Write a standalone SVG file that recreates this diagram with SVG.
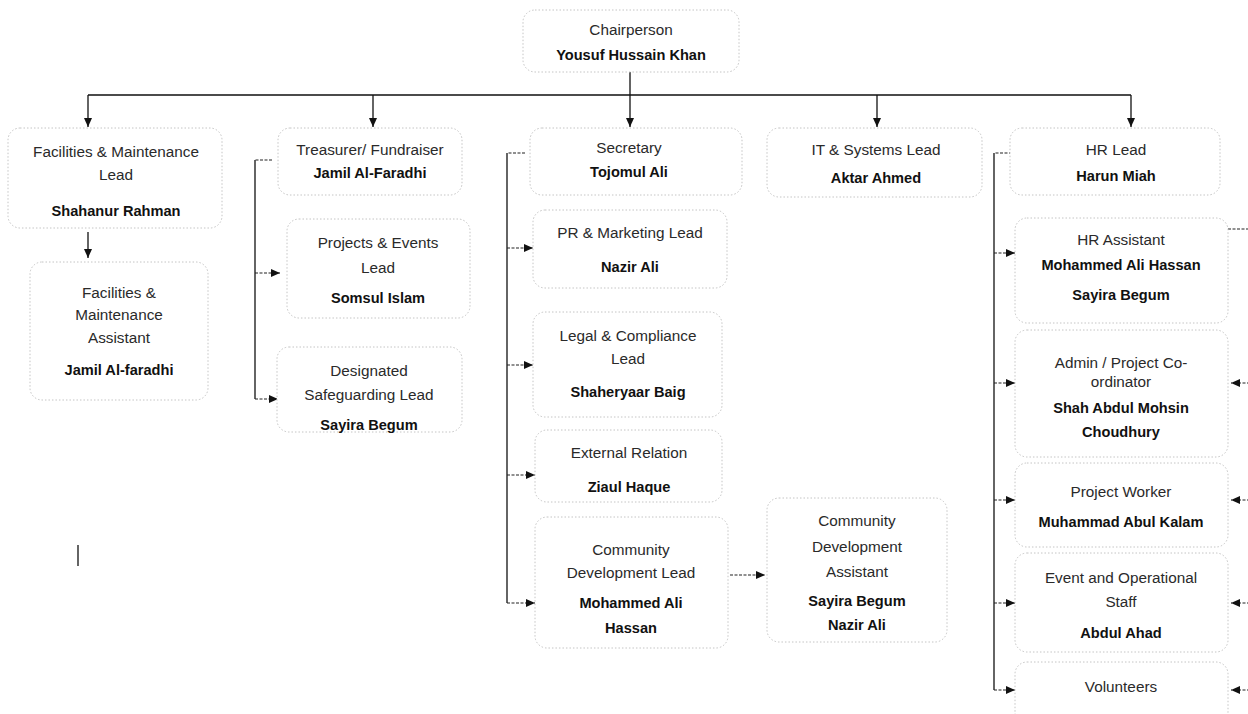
<svg xmlns="http://www.w3.org/2000/svg" width="1248" height="714" viewBox="0 0 1248 714">
  <style>
    .box { fill: #ffffff; stroke: #c4c4c4; stroke-width: 1; stroke-dasharray: 1.5 2; }
    .t { font-family: "Liberation Sans", Arial, sans-serif; font-size: 15.3px; fill: #2a2a2a; text-anchor: middle; }
    .b { font-weight: bold; font-size: 14.6px; fill: #111; }
    .trunk { fill: none; stroke: #111; stroke-width: 1.3; }
    .stub { fill: none; stroke: #222; stroke-width: 1.2; stroke-dasharray: 3 1.5; }
  </style>
  <defs>
    <marker id="arrow" markerUnits="userSpaceOnUse" markerWidth="9" markerHeight="8" refX="9" refY="4" orient="auto">
      <path d="M0,0 L9,4 L0,8 z" fill="#111"/>
    </marker>
  </defs>
  <rect width="1248" height="714" fill="#ffffff"/>

  <!-- connectors -->
  <g id="connectors">
    <!-- chairperson to the five leads -->
    <path class="trunk" d="M630,72 V95 M88,95 H1131"/>
    <path class="trunk" d="M88,95 V127" marker-end="url(#arrow)"/>
    <path class="trunk" d="M373,95 V127" marker-end="url(#arrow)"/>
    <path class="trunk" d="M630,95 V127" marker-end="url(#arrow)"/>
    <path class="trunk" d="M877,95 V127" marker-end="url(#arrow)"/>
    <path class="trunk" d="M1131,95 V127" marker-end="url(#arrow)"/>

    <!-- facilities -->
    <path class="trunk" d="M88,232 V258" marker-end="url(#arrow)"/>
    <path class="trunk" d="M78,545 V566"/>

    <!-- treasurer -->
    <path class="trunk" d="M255,160 V399"/>
    <path class="stub" d="M272,160 H255"/>
    <path class="stub" d="M255,273 H280" marker-end="url(#arrow)"/>
    <path class="stub" d="M255,399 H278" marker-end="url(#arrow)"/>

    <!-- secretary -->
    <path class="trunk" d="M507,153 V603"/>
    <path class="stub" d="M525,153 H507"/>
    <path class="stub" d="M507,248 H533" marker-end="url(#arrow)"/>
    <path class="stub" d="M507,365 H533" marker-end="url(#arrow)"/>
    <path class="stub" d="M507,475 H535" marker-end="url(#arrow)"/>
    <path class="stub" d="M507,603 H535" marker-end="url(#arrow)"/>
    <path class="stub" d="M730,575 H765" marker-end="url(#arrow)"/>

    <!-- HR -->
    <path class="trunk" d="M994,153 V690"/>
    <path class="stub" d="M1012,153 H994"/>
    <path class="stub" d="M994,253 H1015" marker-end="url(#arrow)"/>
    <path class="stub" d="M994,383 H1015" marker-end="url(#arrow)"/>
    <path class="stub" d="M994,500 H1015" marker-end="url(#arrow)"/>
    <path class="stub" d="M994,603 H1015" marker-end="url(#arrow)"/>
    <path class="stub" d="M994,690 H1015" marker-end="url(#arrow)"/>

    <!-- HR assistant to staff (right side) -->
    <path class="stub" d="M1228,229 H1250"/>
    <path class="stub" d="M1250,383 H1231" marker-end="url(#arrow)"/>
    <path class="stub" d="M1250,500 H1231" marker-end="url(#arrow)"/>
    <path class="stub" d="M1250,603 H1231" marker-end="url(#arrow)"/>
    <path class="stub" d="M1250,690 H1231" marker-end="url(#arrow)"/>
  </g>

  <g id="chairperson">
    <rect class="box" x="523" y="10" width="216" height="62" rx="12"/>
    <text class="t" x="631" y="35">Chairperson</text>
    <text class="t b" x="631" y="60">Yousuf Hussain Khan</text>
  </g>

  <g id="facilities-lead">
    <rect class="box" x="8" y="128" width="214" height="100" rx="12"/>
    <text class="t" x="116" y="157">Facilities &amp; Maintenance</text>
    <text class="t" x="116" y="180">Lead</text>
    <text class="t b" x="116" y="216">Shahanur Rahman</text>
  </g>

  <g id="facilities-assistant">
    <rect class="box" x="30" y="262" width="178" height="138" rx="12"/>
    <text class="t" x="119" y="298">Facilities &amp;</text>
    <text class="t" x="119" y="320">Maintenance</text>
    <text class="t" x="119" y="343">Assistant</text>
    <text class="t b" x="119" y="375">Jamil Al-faradhi</text>
  </g>

  <g id="treasurer">
    <rect class="box" x="278" y="128" width="184" height="67" rx="12"/>
    <text class="t" x="370" y="155">Treasurer/ Fundraiser</text>
    <text class="t b" x="370" y="178">Jamil Al-Faradhi</text>
  </g>

  <g id="projects-events">
    <rect class="box" x="287" y="219" width="183" height="99" rx="12"/>
    <text class="t" x="378" y="248">Projects &amp; Events</text>
    <text class="t" x="378" y="273">Lead</text>
    <text class="t b" x="378" y="303">Somsul Islam</text>
  </g>

  <g id="safeguarding">
    <rect class="box" x="277" y="347" width="185" height="85" rx="12"/>
    <text class="t" x="369" y="376">Designated</text>
    <text class="t" x="369" y="400">Safeguarding Lead</text>
    <text class="t b" x="369" y="430">Sayira Begum</text>
  </g>

  <g id="secretary">
    <rect class="box" x="530" y="128" width="212" height="67" rx="12"/>
    <text class="t" x="629" y="153">Secretary</text>
    <text class="t b" x="629" y="177">Tojomul Ali</text>
  </g>

  <g id="pr-marketing">
    <rect class="box" x="533" y="210" width="194" height="78" rx="12"/>
    <text class="t" x="630" y="238">PR &amp; Marketing Lead</text>
    <text class="t b" x="630" y="272">Nazir Ali</text>
  </g>

  <g id="legal-compliance">
    <rect class="box" x="533" y="312" width="189" height="105" rx="12"/>
    <text class="t" x="628" y="341">Legal &amp; Compliance</text>
    <text class="t" x="628" y="364">Lead</text>
    <text class="t b" x="628" y="397">Shaheryaar Baig</text>
  </g>

  <g id="external-relation">
    <rect class="box" x="535" y="430" width="187" height="72" rx="12"/>
    <text class="t" x="629" y="458">External Relation</text>
    <text class="t b" x="629" y="492">Ziaul Haque</text>
  </g>

  <g id="community-lead">
    <rect class="box" x="535" y="517" width="193" height="131" rx="12"/>
    <text class="t" x="631" y="555">Community</text>
    <text class="t" x="631" y="578">Development Lead</text>
    <text class="t b" x="631" y="608">Mohammed Ali</text>
    <text class="t b" x="631" y="633">Hassan</text>
  </g>

  <g id="community-assistant">
    <rect class="box" x="767" y="498" width="180" height="144" rx="12"/>
    <text class="t" x="857" y="526">Community</text>
    <text class="t" x="857" y="552">Development</text>
    <text class="t" x="857" y="577">Assistant</text>
    <text class="t b" x="857" y="606">Sayira Begum</text>
    <text class="t b" x="857" y="630">Nazir Ali</text>
  </g>

  <g id="it-systems">
    <rect class="box" x="767" y="128" width="215" height="69" rx="12"/>
    <text class="t" x="876" y="155">IT &amp; Systems Lead</text>
    <text class="t b" x="876" y="183">Aktar Ahmed</text>
  </g>

  <g id="hr-lead">
    <rect class="box" x="1010" y="128" width="210" height="67" rx="12"/>
    <text class="t" x="1116" y="155">HR Lead</text>
    <text class="t b" x="1116" y="181">Harun Miah</text>
  </g>

  <g id="hr-assistant">
    <rect class="box" x="1015" y="218" width="213" height="105" rx="12"/>
    <text class="t" x="1121" y="245">HR Assistant</text>
    <text class="t b" x="1121" y="270">Mohammed Ali Hassan</text>
    <text class="t b" x="1121" y="300">Sayira Begum</text>
  </g>

  <g id="admin-coordinator">
    <rect class="box" x="1015" y="330" width="213" height="127" rx="12"/>
    <text class="t" x="1121" y="368">Admin / Project Co-</text>
    <text class="t" x="1121" y="387">ordinator</text>
    <text class="t b" x="1121" y="413">Shah Abdul Mohsin</text>
    <text class="t b" x="1121" y="437">Choudhury</text>
  </g>

  <g id="project-worker">
    <rect class="box" x="1015" y="463" width="213" height="84" rx="12"/>
    <text class="t" x="1121" y="497">Project Worker</text>
    <text class="t b" x="1121" y="527">Muhammad Abul Kalam</text>
  </g>

  <g id="event-staff">
    <rect class="box" x="1015" y="553" width="213" height="99" rx="12"/>
    <text class="t" x="1121" y="583">Event and Operational</text>
    <text class="t" x="1121" y="607">Staff</text>
    <text class="t b" x="1121" y="638">Abdul Ahad</text>
  </g>

  <g id="volunteers">
    <rect class="box" x="1015" y="662" width="213" height="62" rx="12"/>
    <text class="t" x="1121" y="692">Volunteers</text>
  </g>
</svg>
